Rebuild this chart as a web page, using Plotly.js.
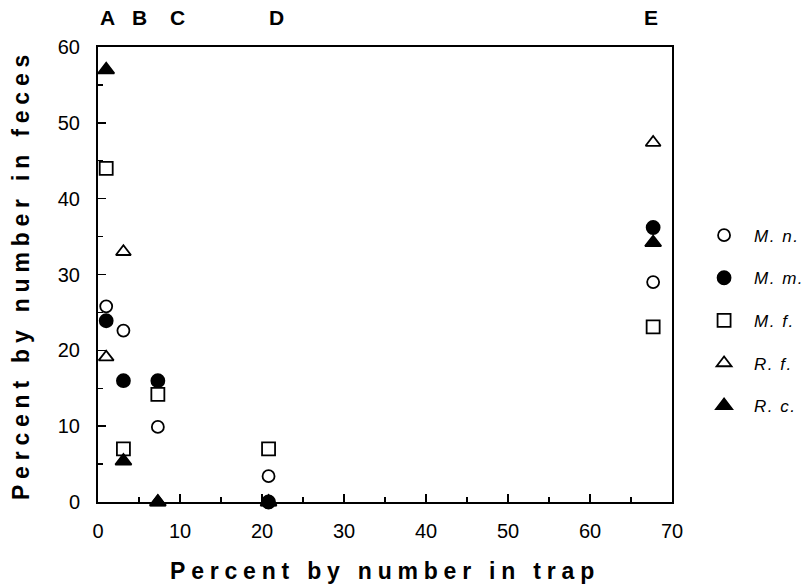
<!DOCTYPE html>
<html>
<head>
<meta charset="utf-8">
<script src="https://cdn.plot.ly/plotly-3.0.1.min.js"></script>
<style>
  html, body { margin: 0; padding: 0; background: #fff; }
  #chart { width: 808px; height: 587px; }
  .g-xtitle text, .g-ytitle text { letter-spacing: 5.8px; }
  .legendtext { letter-spacing: 1.5px; }
</style>
</head>
<body>
<div id="chart"></div>
<script>
// Sites (top labels) and percent by number in trap
const sites = ['A', 'B', 'C', 'D', 'E'];
const trapPct = [1.0, 3.1, 7.3, 20.8, 67.7];
const siteLabelX = [1.2, 5.0, 9.7, 21.8, 67.4];

// Percent by number in feces, per species
const seriesNames = ['M. n.', 'M. m.', 'M. f.', 'R. f.', 'R. c.'];
const mn = [25.8, 22.6, 9.9, 3.4, 29.0];
const mm = [23.9, 16.0, 16.0, 0, 36.2];
const mf = [44.0, 7.0, 14.2, 7.0, 23.1];
const rf = [19.1, 33.0, 0, 0, 47.4];
const rc = [57.0, 5.4, 0, 0, 34.2];

const xTicks = [0, 10, 20, 30, 40, 50, 60, 70];
const yTicks = [0, 10, 20, 30, 40, 50, 60];

const styles = [
  {symbol: 'circle-open', size: 12},
  {symbol: 'circle', size: 13},
  {symbol: 'square-open', size: 13},
  {symbol: 'triangle-up-open', size: 13},
  {symbol: 'triangle-up', size: 14}
];
const values = [mn, mm, mf, rf, rc];

const traces = values.map((v, i) => ({
  type: 'scatter',
  mode: 'markers',
  name: seriesNames[i],
  legendgroup: 'g' + i,
  x: trapPct,
  y: v,
  cliponaxis: false,
  marker: {
    symbol: styles[i].symbol,
    size: styles[i].size,
    color: '#000',
    line: {color: '#000', width: 1.8}
  }
}));

const annotations = sites.map((s, i) => ({
  text: s,
  x: siteLabelX[i],
  xref: 'x',
  y: 1.064,
  yref: 'paper',
  showarrow: false,
  font: {family: 'Liberation Sans, Arial, sans-serif', size: 21, weight: 'bold', color: '#000'},
  xanchor: 'center',
  yanchor: 'middle'
}));

const axisCommon = {
  showgrid: false,
  zeroline: false,
  showline: true,
  linecolor: '#000',
  linewidth: 2,
  mirror: true,
  ticks: 'inside',
  ticklen: 8,
  tickwidth: 1.5,
  tickcolor: '#000',
  tickfont: {family: 'Liberation Sans, Arial, sans-serif', size: 20, color: '#000'},
  minor: {dtick: 5, ticks: 'inside', ticklen: 5, tickwidth: 1.2, tickcolor: '#000'}
};

const layout = {
  width: 808,
  height: 587,
  margin: {l: 98, r: 136, t: 47, b: 85, autoexpand: false},
  paper_bgcolor: '#fff',
  plot_bgcolor: '#fff',
  showlegend: true,
  legend: {
    xref: 'container',
    x: 0.859, xanchor: 'left',
    y: 0.625, yanchor: 'top',
    font: {family: 'Liberation Sans, Arial, sans-serif', size: 17, style: 'italic', color: '#000'},
    tracegroupgap: 17.5,
    itemwidth: 50,
    bgcolor: 'rgba(0,0,0,0)'
  },
  xaxis: Object.assign({}, axisCommon, {
    range: [0, 70],
    tickvals: xTicks,
    ticktext: xTicks.map(String),
    ticklabelstandoff: 10,
    title: {text: 'Percent by number in trap', standoff: 22,
      font: {family: 'Liberation Sans, Arial, sans-serif', size: 23, weight: 'bold', color: '#000'}}
  }),
  yaxis: Object.assign({}, axisCommon, {
    range: [0, 60],
    tickvals: yTicks,
    ticktext: yTicks.map(String),
    ticklabelstandoff: 12,
    title: {text: 'Percent by number in feces', standoff: 22,
      font: {family: 'Liberation Sans, Arial, sans-serif', size: 23, weight: 'bold', color: '#000'}}
  }),
  annotations: annotations
};

Plotly.newPlot('chart', traces, layout, {displayModeBar: false, staticPlot: true});
</script>
</body>
</html>
